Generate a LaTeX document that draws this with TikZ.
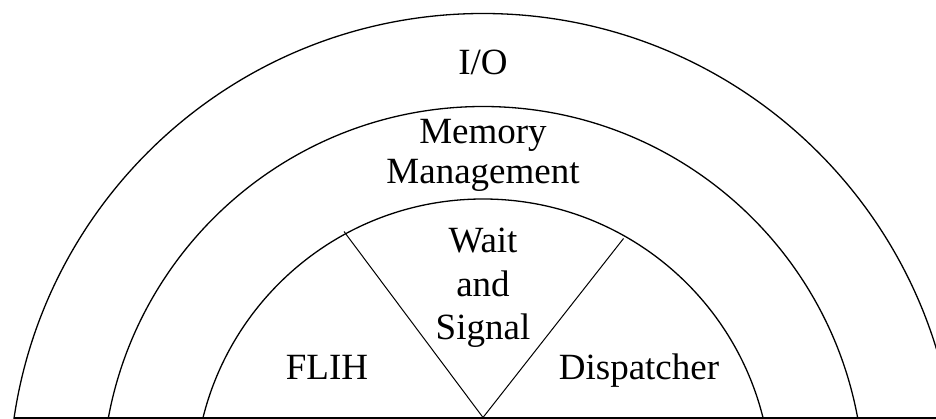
\documentclass[tikz,border=0pt]{standalone}
\usepackage{fontspec}
\setmainfont{Liberation Serif}
\begin{document}
\begin{tikzpicture}[x=1pt,y=-1pt,
  ring/.style={line width=1.3pt},
  divider/.style={line width=1pt},
  baseline line/.style={line width=1.8pt},
  lbl/.style={anchor=base, inner sep=0pt, font=\fontsize{37}{43}\selectfont}]
\useasboundingbox (0,0) rectangle (936,419);
\coordinate (c) at (483,487.5);
\begin{scope}
  \clip (0,0) rectangle (936,418);
  \draw[ring] (c) circle[radius=474pt];
  \draw[ring] (c) circle[radius=381pt];
  \draw[ring] (c) circle[radius=288.5pt];
\end{scope}
\coordinate (bl) at (14,418);
\coordinate (br) at (936,418);
\draw[baseline line] (bl) -- (br);
\coordinate (apex) at (483,417.5);
\coordinate (lt) at (344,231.5);
\coordinate (rt) at (623.5,238.5);
\draw[divider] (apex) -- (lt);
\draw[divider] (apex) -- (rt);
\node[lbl] (io) at (483,75) {I/O};
\node[lbl] (mem1) at (483,144) {Memory};
\node[lbl] (mem2) at (483,184) {Management};
\node[lbl] (w1) at (483,253) {Wait};
\node[lbl] (w2) at (483,297) {and};
\node[lbl] (w3) at (483,339) {Signal};
\node[lbl] (flih) at (327,379) {FLIH};
\node[lbl] (disp) at (639,379) {Dispatcher};
\end{tikzpicture}
\end{document}
